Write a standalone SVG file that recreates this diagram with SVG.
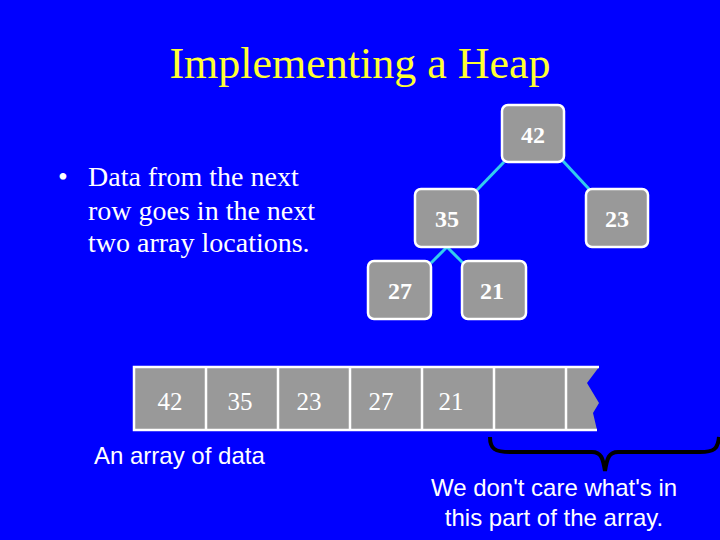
<svg xmlns="http://www.w3.org/2000/svg" width="720" height="540" viewBox="0 0 720 540">
<style>
.node rect{fill:#999999;stroke:#ffffff;stroke-width:2.5}
.nt{font-family:"Liberation Serif",serif;font-weight:bold;font-size:24px;fill:#ffffff;text-anchor:middle}
.at{font-family:"Liberation Serif",serif;font-size:25px;fill:#ffffff;text-anchor:middle}
.edge{stroke:#33CCEE;stroke-width:3;fill:none}
.sans{font-family:"Liberation Sans",Arial,sans-serif;font-size:24px;fill:#ffffff}
.serif{font-family:"Liberation Serif",serif;fill:#ffffff}
</style>
<rect width="720" height="540" fill="#0000FF"/>
<text x="360" y="78" text-anchor="middle" font-family="'Liberation Serif',serif" font-size="44" fill="#FFFF33">Implementing a Heap</text>
<g id="bullet" class="serif" font-size="28">
<text x="58" y="186">•</text>
<text x="88" y="186">Data from the next</text>
<text x="88" y="220">row goes in the next</text>
<text x="88" y="252">two array locations.</text>
</g>
<g id="connectors">
<line class="edge" x1="504" y1="162" x2="477" y2="190"/>
<line class="edge" x1="563" y1="161" x2="589" y2="189"/>
<line class="edge" x1="447" y1="247" x2="431" y2="263"/>
<line class="edge" x1="447" y1="247" x2="463" y2="263"/>
</g>
<g id="n42" class="node"><rect x="502" y="105" width="62" height="57" rx="6"/><text class="nt" x="533" y="143">42</text></g>
<g id="n35" class="node"><rect x="415" y="189" width="63" height="58" rx="6"/><text class="nt" x="447" y="227">35</text></g>
<g id="n23" class="node"><rect x="586" y="189" width="62" height="58" rx="6"/><text class="nt" x="617" y="227">23</text></g>
<g id="n27" class="node"><rect x="368" y="261" width="63" height="58" rx="6"/><text class="nt" x="400" y="299">27</text></g>
<g id="n21" class="node"><rect x="462" y="261" width="64" height="58" rx="6"/><text class="nt" x="492" y="299">21</text></g>
<g id="array">
<path d="M134,367 L599,367 L587,383 L599,403 L593,413 L597,430 L134,430 Z" fill="#999999"/>
<path d="M599,367 L134,367 L134,430 L597,430" fill="none" stroke="#ffffff" stroke-width="2.5"/>
<g stroke="#ffffff" stroke-width="2.5">
<line x1="206" y1="367" x2="206" y2="430"/>
<line x1="278" y1="367" x2="278" y2="430"/>
<line x1="350" y1="367" x2="350" y2="430"/>
<line x1="422" y1="367" x2="422" y2="430"/>
<line x1="494" y1="367" x2="494" y2="430"/>
<line x1="566" y1="367" x2="566" y2="430"/>
</g>
<text class="at" x="170" y="410">42</text>
<text class="at" x="240" y="410">35</text>
<text class="at" x="309" y="410">23</text>
<text class="at" x="381" y="410">27</text>
<text class="at" x="451" y="410">21</text>
</g>
<text class="sans" x="94" y="464">An array of data</text>
<path id="brace" d="M490,437 C490,449 495,452 510,452 L592,452 C601,452 603,458 605,471 C607,458 609,452 618,452 L700,452 C714,452 718,449 719,437" fill="none" stroke="#000000" stroke-width="4"/>
<g class="sans" text-anchor="middle">
<text x="554" y="496">We don't care what's in</text>
<text x="554" y="526">this part of the array.</text>
</g>
</svg>
